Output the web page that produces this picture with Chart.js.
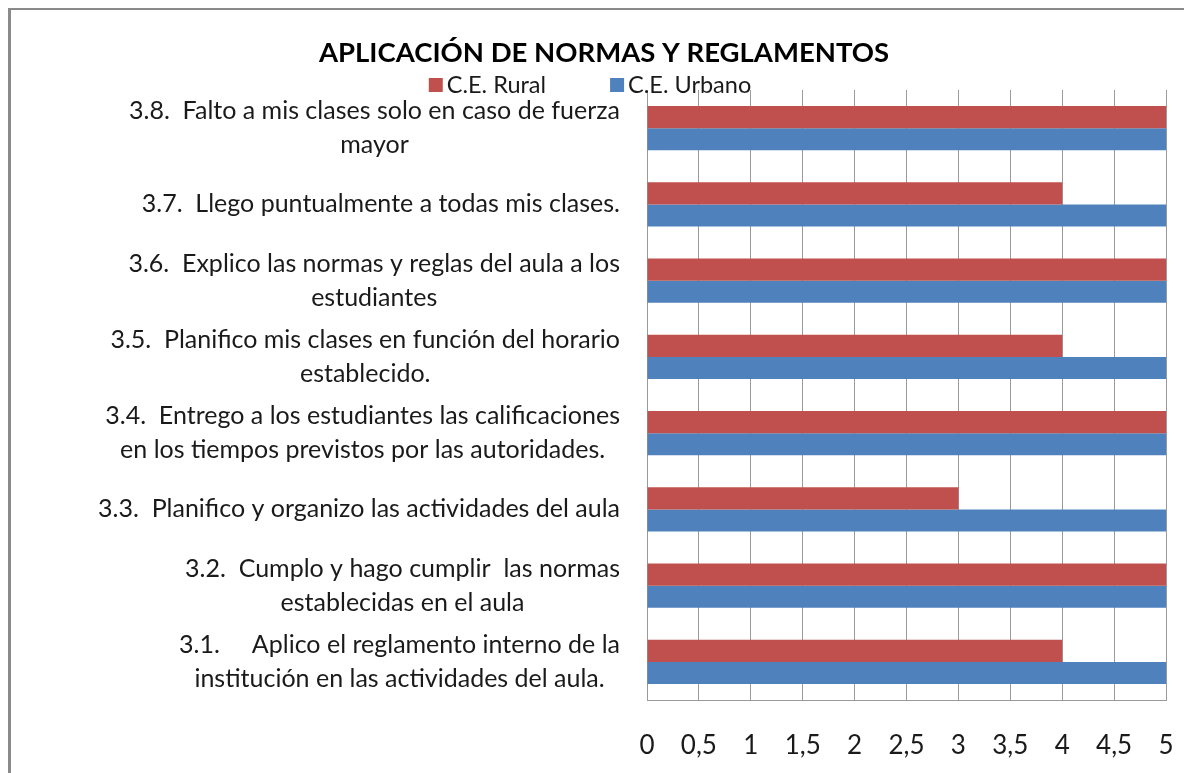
<!DOCTYPE html>
<html>
<head>
<meta charset="utf-8">
<script src="https://cdn.jsdelivr.net/npm/chart.js@4.4.1/dist/chart.umd.min.js"></script>
<style>
  html, body { margin: 0; padding: 0; background: #fff; overflow: hidden; }
  #frame {
    position: absolute; left: 8px; top: 8px; width: 1200px; height: 800px;
    border-left: 3px solid #8a8a8a; border-top: 2px solid #8a8a8a;
  }
  #wrap { position: absolute; left: 11px; top: 10px; width: 1173px; height: 763px; }
</style>
</head>
<body>
<div id="frame"></div>
<div id="wrap"><canvas id="chart"></canvas></div>
<script>
const chartTitle = 'APLICACIÓN DE NORMAS Y REGLAMENTOS';
const seriesNames = ['C.E. Rural', 'C.E. Urbano'];

// each question is split in the lines shown in the picture
const questions = [
    ['3.8.  Falto a mis clases solo en caso de fuerza', 'mayor'],
    ['3.7.  Llego puntualmente a todas mis clases.'],
    ['3.6.  Explico las normas y reglas del aula a los', 'estudiantes'],
    ['3.5.  Planifico mis clases en función del horario', 'establecido.'],
    ['3.4.  Entrego a los estudiantes las calificaciones', 'en los tiempos previstos por las autoridades.'],
    ['3.3.  Planifico y organizo las actividades del aula'],
    ['3.2.  Cumplo y hago cumplir  las normas', 'establecidas en el aula'],
    ['3.1.     Aplico el reglamento interno de la', 'institución en las actividades del aula.']
];

const rural = [5, 4, 5, 4, 5, 3, 5, 4];
const urbano = [5, 5, 5, 5, 5, 5, 5, 5];

const xMin = 0;
const xMax = 5;
const xStep = 0.5;

const textColor = '#1a1a1a';
const labelFont = '25px Lato';
const labelGap = 27;
const lineGap = 34;

const legendFont = '23.5px Lato';
const legendBox = 14;
const legendTextGap = 4;
const legendItemGap = 64;
const legendShift = -14;

// Excel style category labels: block right aligned, lines centered inside the block
const questionLabels = {
    id: 'questionLabels',
    afterDraw(chart) {
        const scale = chart.scales.y;
        const ctx = chart.ctx;
        ctx.save();
        ctx.font = labelFont;
        ctx.fillStyle = textColor;
        ctx.textAlign = 'center';
        ctx.textBaseline = 'middle';
        const right = scale.right - labelGap;
        questions.forEach((lines, i) => {
            const w = Math.max(...lines.map(l => ctx.measureText(l).width));
            const cx = right - w / 2;
            const cy = scale.getPixelForTick(i);
            lines.forEach((line, j) => {
                ctx.fillText(line, cx, cy + (j - (lines.length - 1) / 2) * lineGap);
            });
        });
        ctx.restore();
    }
};

// legend sits just over the plot, like in the Excel picture
const seriesLegend = {
    id: 'seriesLegend',
    afterDraw(chart) {
        const ctx = chart.ctx;
        ctx.save();
        ctx.font = legendFont;
        ctx.textAlign = 'left';
        ctx.textBaseline = 'middle';
        const items = chart.data.datasets.map(ds => ({
            label: ds.label,
            color: ds.backgroundColor,
            w: legendBox + legendTextGap + ctx.measureText(ds.label).width
        }));
        const total = items.reduce((s, it) => s + it.w, 0) + legendItemGap * (items.length - 1);
        const t = chart.titleBlock;
        let x = (t.left + t.right) / 2 + legendShift - total / 2;
        const y = chart.chartArea.top - 5;
        items.forEach(it => {
            ctx.fillStyle = it.color;
            ctx.fillRect(x, y - legendBox / 2, legendBox, legendBox);
            ctx.fillStyle = textColor;
            ctx.fillText(it.label, x + legendBox + legendTextGap, y);
            x += it.w + legendItemGap;
        });
        ctx.restore();
    }
};

const ctx = document.getElementById('chart').getContext('2d');

new Chart(ctx, {
    type: 'bar',
    data: {
        labels: questions,
        datasets: [{
            label: seriesNames[0],
            data: rural,
            backgroundColor: '#C0504D',
            barPercentage: 1.0,
            categoryPercentage: 0.58
        }, {
            label: seriesNames[1],
            data: urbano,
            backgroundColor: '#4F81BD',
            barPercentage: 1.0,
            categoryPercentage: 0.58
        }]
    },
    options: {
        indexAxis: 'y',
        responsive: true,
        maintainAspectRatio: false,
        animation: false,
        layout: { padding: { left: 31, right: 18, top: 0, bottom: 0 } },
        plugins: {
            title: {
                display: true,
                text: chartTitle,
                color: '#000',
                font: { family: 'Lato', size: 27.5, weight: 'bold' },
                padding: { top: 27, bottom: 20 }
            },
            legend: { display: false },
            tooltip: { enabled: false }
        },
        scales: {
            x: {
                min: xMin,
                max: xMax,
                ticks: {
                    stepSize: xStep,
                    color: textColor,
                    font: { family: 'Lato', size: 26 },
                    padding: 30,
                    callback: v => String(v).replace('.', ',')
                },
                grid: { color: '#9a9a9a', lineWidth: 1, drawTicks: false },
                border: { display: true, color: '#9a9a9a' },
                afterFit: s => {
                    s.height = 73;
                    s.paddingLeft = 0;
                    s.paddingRight = 0;
                }
            },
            y: {
                ticks: { display: false },
                grid: { display: false, drawTicks: false },
                border: { display: true, color: '#9a9a9a' },
                afterFit: s => { s.width = 605; }
            }
        }
    },
    plugins: [questionLabels, seriesLegend]
});
</script>
</body>
</html>
